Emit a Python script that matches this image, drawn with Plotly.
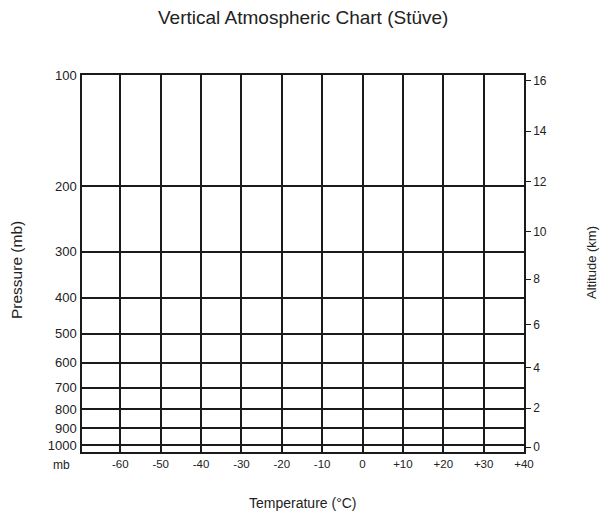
import plotly.graph_objects as go

# --- data ---
temperatures = [-60, -50, -40, -30, -20, -10, 0, 10, 20, 30, 40]
temperature_labels = ["-60", "-50", "-40", "-30", "-20", "-10", "0", "+10", "+20", "+30", "+40"]
pressures = [100, 200, 300, 400, 500, 600, 700, 800, 900, 1000]
pressure_labels = ["100", "200", "300", "400", "500", "600", "700", "800", "900", "1000"]
altitude_km = [0, 2, 4, 6, 8, 10, 12, 14, 16]
altitude_pressure = [1013.25, 795.0, 616.6, 472.2, 356.5, 265.0, 194.0, 141.7, 103.5]

FONT = "Liberation Sans, Arial, sans-serif"
LINE = "#1a1a1a"
TXT = "#222"

y_range = [3.0189, 2.0]

fig = go.Figure()
fig.add_trace(go.Scatter(x=[temperatures[0]], y=[pressures[-1]], mode="markers",
                         marker=dict(opacity=0), showlegend=False, hoverinfo="skip"))
fig.add_trace(go.Scatter(x=[temperatures[0]], y=[altitude_pressure[0]], mode="markers",
                         marker=dict(opacity=0), showlegend=False, hoverinfo="skip", yaxis="y2"))

fig.update_layout(
    width=604, height=512,
    margin=dict(l=82, r=80, t=75, b=60, autoexpand=False),
    paper_bgcolor="white", plot_bgcolor="white",
    showlegend=False,
    font=dict(family=FONT, color=TXT),
    xaxis=dict(range=[-69.5, 40], tickvals=temperatures, ticktext=temperature_labels,
               showgrid=True, gridcolor=LINE, gridwidth=1.5, zeroline=False,
               showline=True, linecolor=LINE, linewidth=1.5, mirror=True,
               ticks="", automargin=False,
               tickfont=dict(size=11.5, family=FONT, color=TXT)),
    yaxis=dict(type="log", range=y_range, tickvals=pressures, ticktext=pressure_labels,
               showgrid=True, gridcolor=LINE, gridwidth=1.5, zeroline=False,
               showline=True, linecolor=LINE, linewidth=1.5, mirror=True,
               ticks="", ticklabelstandoff=1, automargin=False,
               tickfont=dict(size=13, family=FONT, color=TXT)),
    yaxis2=dict(type="log", range=y_range, overlaying="y", side="right",
                tickvals=altitude_pressure, ticktext=[str(a) for a in altitude_km],
                showgrid=False, zeroline=False, showline=True, linecolor=LINE, linewidth=1.5,
                ticks="outside", ticklen=5, tickcolor=LINE, automargin=False,
                tickfont=dict(size=12, family=FONT, color=TXT)),
    annotations=[
        dict(text="Vertical Atmospheric Chart (Stüve)", xref="paper", yref="paper",
             x=0.5, y=1.1512, xanchor="center", yanchor="middle", showarrow=False,
             font=dict(size=19, family=FONT, color=TXT)),
        dict(text="Temperature (°C)", xref="paper", yref="paper",
             x=0.5, y=-0.1353, xanchor="center", yanchor="middle", showarrow=False,
             font=dict(size=14, family=FONT, color=TXT)),
        dict(text="Pressure (mb)", xref="paper", yref="paper", textangle=-90,
             x=-0.147, y=0.4828, xanchor="center", yanchor="middle", showarrow=False,
             font=dict(size=15.5, family=FONT, color=TXT)),
        dict(text="Altitude (km)", xref="paper", yref="paper", textangle=-90,
             x=1.1538, y=0.504, xanchor="center", yanchor="middle", showarrow=False,
             font=dict(size=13, family=FONT, color=TXT)),
        dict(text="mb", xref="paper", yref="paper", x=0, y=0,
             xanchor="right", yanchor="top", xshift=-10, yshift=-4,
             showarrow=False, font=dict(size=12, family=FONT, color=TXT)),
    ],
)

fig.write_html("out.html", config={"displayModeBar": False},
               post_script="document.body.style.margin='0';document.body.style.padding='0';")
